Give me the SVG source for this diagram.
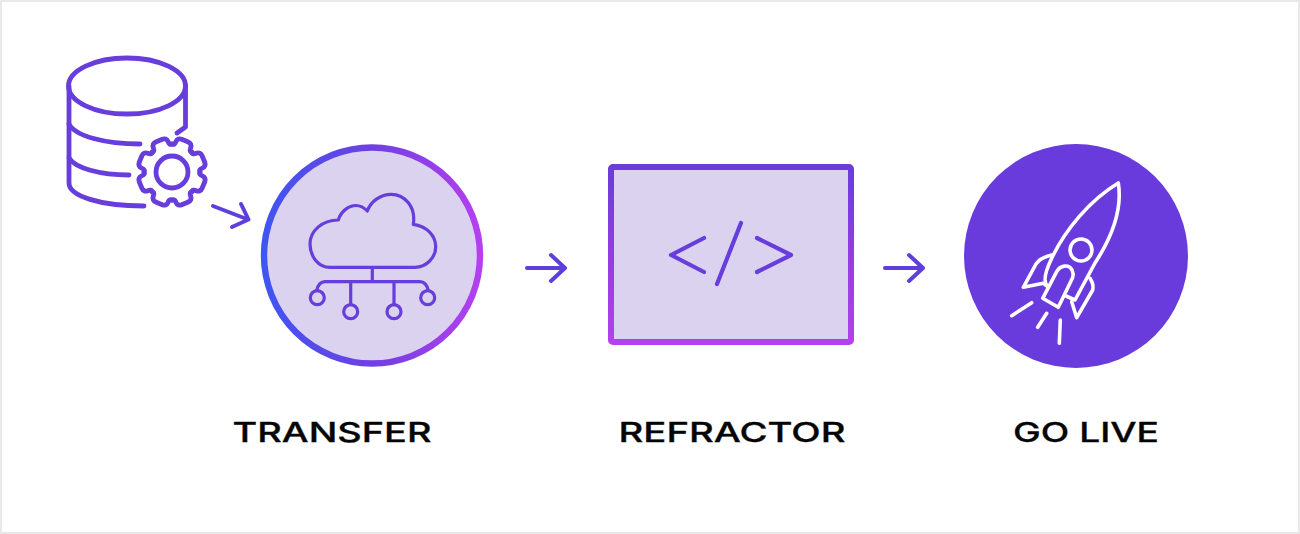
<svg xmlns="http://www.w3.org/2000/svg" width="1300" height="534" viewBox="0 0 1300 534">
  <style>
    .ink { fill: none; stroke: #673ddb; stroke-linecap: round; stroke-linejoin: round; }
    .thick { stroke-width: 4.8; }
    .code { stroke-width: 4.2; }
    .thin { stroke-width: 3.2; }
    .arrow { fill: none; stroke: #5f3fdc; stroke-width: 4; stroke-linecap: round; stroke-linejoin: round; }
    .white { fill: none; stroke: #fff; stroke-width: 3.6; stroke-linecap: round; stroke-linejoin: round; }
    .label { font-family: "Inter", "Liberation Sans", sans-serif; font-size: 27.5px; font-weight: 500; fill: #050505; stroke: #050505; stroke-width: 0.3; }
  </style>
  <defs>
    <linearGradient id="ringGrad" x1="0" y1="0" x2="1" y2="0">
      <stop offset="0" stop-color="#3f55f2"/>
      <stop offset="0.5" stop-color="#6f3fe2"/>
      <stop offset="1" stop-color="#b440ee"/>
    </linearGradient>
    <linearGradient id="frameGrad" x1="0" y1="0" x2="0" y2="1">
      <stop offset="0" stop-color="#6a3cdb"/>
      <stop offset="1" stop-color="#b440ee"/>
    </linearGradient>
    <!-- one gear tooth pointing up; the gear repeats it every 45 degrees -->
    <path id="tooth" d="M-10.700-25.900C-8.500-25.500-8-27.500-8-29.500C-8-32.500-6-34-3.500-34L3.500-34C6-34 8-32.500 8-29.500C8-27.500 8.500-25.500 10.700-25.900"/>
  </defs>

  <rect x="1" y="1" width="1298" height="532" fill="#fff" stroke="#e9e9e9" stroke-width="2"/>

  <g id="database">
    <ellipse class="ink thick" cx="127" cy="86" rx="58.500" ry="28"/>
    <path class="ink thick" d="M69 86V183C69 196 100 206 144 206"/>
    <path class="ink thick" d="M69 124C75 136 105 144 140 144"/>
    <path class="ink thick" d="M69 158C75 168 100 175 129 175"/>
    <path class="ink thick" d="M185.500 86V127L177 133"/>
    <g class="ink thick" transform="translate(172 172)">
      <circle r="16"/>
      <use href="#tooth" transform="rotate(22.5)"/>
      <use href="#tooth" transform="rotate(67.5)"/>
      <use href="#tooth" transform="rotate(112.5)"/>
      <use href="#tooth" transform="rotate(157.5)"/>
      <use href="#tooth" transform="rotate(202.5)"/>
      <use href="#tooth" transform="rotate(247.5)"/>
      <use href="#tooth" transform="rotate(292.5)"/>
      <use href="#tooth" transform="rotate(337.5)"/>
    </g>
  </g>

  <g id="transfer">
    <circle cx="372" cy="255.500" r="108" fill="#dad2ef" stroke="url(#ringGrad)" stroke-width="6.400"/>
    <path class="ink thin" d="M330 267.300C318 267.300 310 256 310 244C310 231 322 220 338.300 220C341 211 349 205.500 356 205.500C360 205.500 364 207.500 367.300 211C371 201 381 194.300 391 194.300C405 194.300 416 207 413.300 224.300C427 226 435.700 236 435.700 246.700C435.700 258 426 267.300 415 267.300Z"/>
    <path class="ink thin" d="M372.300 267.300V281.700M316.700 290.500C318 285 320 281.700 325 281.700H420C425 281.700 427 285 428.300 290.500M350.700 281.700V304.700M394 281.700V304.700"/>
    <circle class="ink thin" cx="317.300" cy="297.700" r="7"/>
    <circle class="ink thin" cx="350.700" cy="311.700" r="7"/>
    <circle class="ink thin" cx="394" cy="311.700" r="7"/>
    <circle class="ink thin" cx="427.700" cy="297.700" r="7"/>
    <text class="label" x="232.500" y="441.700" textLength="199" lengthAdjust="spacingAndGlyphs">TRANSFER</text>
  </g>

  <g id="refractor">
    <rect x="611" y="167" width="240" height="175" rx="2" fill="#dad2ef" stroke="url(#frameGrad)" stroke-width="6"/>
    <path class="ink code" d="M704 238L671 255L704 272M741 223L717 284M757 238L791 255L757 272"/>
    <text class="label" x="618.500" y="441.700" textLength="227" lengthAdjust="spacingAndGlyphs">REFRACTOR</text>
  </g>

  <g id="go-live">
    <circle cx="1076" cy="256" r="112" fill="#6a3bdc"/>
    <path class="white" d="M1048 286.700L1043.300 283.300L1023.300 287.300L1036 264C1039 259.500 1045 256.500 1051.700 255"/>
    <path class="white" d="M1048 286.700C1042 282 1046 270 1051.700 258.300C1065 230 1090 200 1118.300 183C1123 212 1110 240 1095 263L1075 300L1066 296"/>
    <circle class="white" cx="1081" cy="250" r="11"/>
    <path class="white" d="M1042.700 298.300L1056.700 271.700C1060 265 1069 264 1072 270C1073.500 273 1073.500 275 1072.700 277.500L1058.300 307.300Z"/>
    <path class="white" d="M1090 278.300C1093 283 1093.500 287 1092.700 290L1076.700 317.700L1071.700 301.700"/>
    <path class="white" d="M1031.700 302.700L1011.700 315.700M1046.700 313.300L1037.700 327.300M1060.300 320L1059.300 343.300"/>
    <text class="label" x="1013" y="441.700" textLength="146" lengthAdjust="spacingAndGlyphs">GO LIVE</text>
  </g>

  <g id="connectors">
    <path class="arrow" d="M213 206L248 219.500M241 204L248.500 219.500L232 227"/>
    <path class="arrow" d="M527 268H565M551 255L565 268L551 281"/>
    <path class="arrow" d="M885 268H923M909 255L923 268L909 281"/>
  </g>
</svg>
